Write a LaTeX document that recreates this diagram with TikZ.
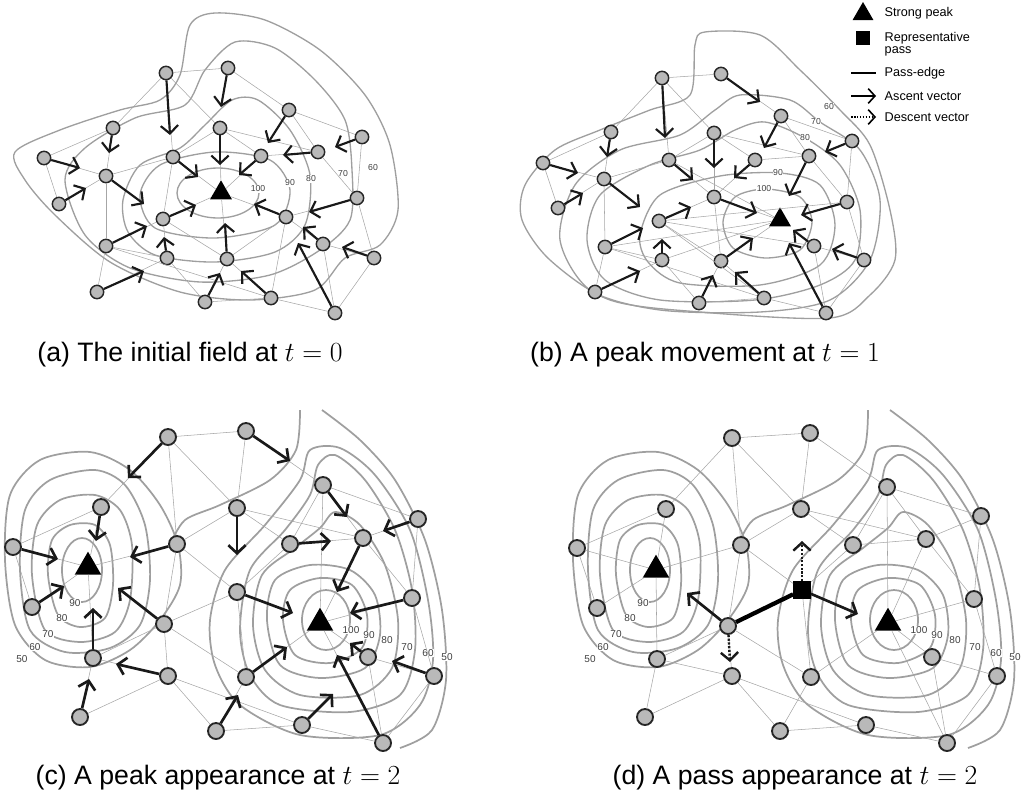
\documentclass[tikz,border=0pt]{standalone}
\usepackage{fontspec}
\setmainfont{Liberation Sans}
\usetikzlibrary{shapes.geometric,arrows.meta}
\begin{document}
\begin{tikzpicture}[x=0.75pt,y=-0.75pt,
 pt/.style={circle,fill=gray!55,draw=black!85,line width=1.1pt,minimum size=10pt,inner sep=0pt},
 bigpt/.style={pt,minimum size=12pt,line width=1.4pt},
 peak/.style={regular polygon,regular polygon sides=3,fill=black,minimum size=19pt,inner sep=0pt},
 bigpeak/.style={peak,minimum size=23pt},
 pass/.style={rectangle,fill=black,minimum size=13pt,inner sep=0pt},
 edge/.style={gray!70,line width=0.4pt},
 cont/.style={gray!75,line width=1pt},
 bigcont/.style={gray!75,line width=1.3pt},
 asc/.style={black!90,line width=1.6pt,-{Straight Barb[length=6pt,width=13pt]}},
 desc/.style={black!90,line width=1.8pt,dash pattern=on 1.6pt off 1.2pt,-{Straight Barb[length=6pt,width=13pt]}},
 passedge/.style={black,line width=3.2pt},
 lab/.style={font=\fontsize{6.5}{7}\selectfont,text=black!75,fill=white,inner sep=0.5pt},
 biglab/.style={lab,font=\fontsize{7.5}{8}\selectfont},
 leg/.style={font=\fontsize{9.5}{10}\selectfont,anchor=west,align=left},
 captxt/.style={font=\fontsize{20}{24}\selectfont}]
\def\ar#1#2{\coordinate (t#1) at (#2); \draw[asc] (#1) -- (t#1);}
\def\arb#1#2{\coordinate (t#1) at (#2); \draw[asc,line width=2pt] (#1) -- (t#1);}
\useasboundingbox (0,0) rectangle (1024,810);

% ---------- panel (a) contours
\draw[cont] (218,193) ellipse [x radius=41,y radius=25];
\draw[cont] plot[smooth cycle] coordinates {(140,195)(160,165)(215,152)(270,160)(290,190)(275,225)(215,238)(155,228)};
\draw[cont] plot[smooth cycle] coordinates {(123,200)(140,165)(180,148)(205,125)(232,100)(258,100)(290,130)(310,175)(305,225)(275,252)(215,262)(155,255)(128,232)};
\draw[cont] plot[smooth cycle] coordinates {(65,180)(85,148)(135,118)(185,105)(205,70)(235,42)(275,48)(315,80)(345,120)(352,170)(350,220)(320,250)(270,275)(200,282)(130,268)(85,235)};
\draw[cont] plot[smooth cycle] coordinates {(15,152)(60,130)(120,110)(160,100)(180,75)(190,25)(215,13)(265,20)(320,50)(365,95)(390,145)(398,210)(380,245)(345,258)(315,290)(250,300)(180,292)(110,262)(55,215)(25,180)};
\node[lab] at (258,189) {100};
\node[lab] at (290,183) {90};
\node[lab] at (311,179) {80};
\node[lab] at (343,174) {70};
\node[lab] at (373,168) {60};

% ---------- panel (b) contours
\draw[cont] plot[smooth cycle] coordinates {(723,222)(735,197)(765,189)(800,197)(812,222)(800,250)(765,258)(733,248)};
\draw[cont] plot[smooth cycle] coordinates {(640,235)(660,195)(720,176)(780,173)(820,185)(835,225)(820,265)(760,285)(680,283)(648,262)};
\draw[cont] plot[smooth cycle] coordinates {(587,240)(600,195)(650,165)(700,150)(735,130)(765,122)(805,138)(840,165)(860,210)(855,260)(820,285)(755,300)(660,300)(605,280)};
\draw[cont] plot[smooth cycle] coordinates {(560,240)(575,185)(620,150)(680,135)(715,110)(740,95)(790,100)(820,122)(860,150)(880,200)(870,260)(830,300)(760,312)(660,310)(590,290)};
\draw[cont] plot[smooth cycle] coordinates {(525,185)(555,150)(600,130)(650,110)(690,95)(695,45)(705,32)(760,35)(800,70)(840,110)(870,145)(890,210)(895,260)(870,295)(830,318)(700,312)(610,300)(550,260)(522,220)};
\node[lab] at (764,189) {100};
\node[lab] at (778,173) {90};
\node[lab] at (805,138) {80};
\node[lab] at (816,122) {70};
\node[lab] at (829,107) {60};

% ---------- panels (c),(d) contours
\foreach \dx in {0,568}{
\begin{scope}[xshift=\dx*0.75pt]
\draw[bigcont] (82,570) ellipse [x radius=20,y radius=32];
\draw[bigcont] plot[smooth cycle] coordinates {(48,575)(52,540)(70,525)(95,525)(110,545)(113,585)(105,618)(80,627)(58,615)};
\draw[bigcont] plot[smooth cycle] coordinates {(32,575)(37,525)(60,500)(95,495)(120,510)(132,545)(130,600)(115,632)(80,642)(45,630)};
\draw[bigcont] plot[smooth cycle] coordinates {(20,570)(25,510)(50,480)(95,470)(125,485)(145,525)(150,580)(140,625)(110,648)(65,652)(30,630)};
\draw[bigcont] plot[smooth cycle] coordinates {(5,560)(10,495)(40,460)(90,452)(130,470)(160,505)(178,545)(180,585)(160,620)(130,650)(90,667)(45,660)(15,625)};
\draw[bigcont] (326,620) ellipse [x radius=24,y radius=30];
\draw[bigcont] plot[smooth cycle] coordinates {(283,620)(290,590)(320,578)(352,585)(367,615)(362,648)(330,663)(295,655)};
\draw[bigcont] plot[smooth cycle] coordinates {(267,620)(275,580)(310,565)(350,570)(375,595)(380,635)(365,668)(320,678)(280,665)};
\draw[bigcont] plot[smooth cycle] coordinates {(253,625)(262,575)(295,548)(320,528)(335,512)(360,525)(385,565)(398,620)(392,668)(360,695)(300,695)(265,670)};
\draw[bigcont] plot[smooth cycle] coordinates {(240,630)(250,570)(285,530)(310,495)(318,465)(335,455)(365,480)(395,530)(412,590)(415,650)(400,695)(350,712)(280,705)(250,675)};
\draw[bigcont] plot[smooth cycle] coordinates {(210,620)(225,570)(265,525)(300,480)(310,450)(340,448)(375,475)(410,530)(428,600)(433,660)(420,705)(380,735)(300,735)(240,705)(215,665)};
\draw[bigcont] plot[smooth] coordinates {(322,410)(360,440)(395,480)(425,540)(442,610)(446,680)(432,730)(400,748)};
\draw[bigcont] plot[smooth] coordinates {(300,410)(296,450)(270,480)(220,505)(185,520)(170,545)};
\node[biglab] at (75,603) {90};
\node[biglab] at (62,618) {80};
\node[biglab] at (48,634) {70};
\node[biglab] at (35,647) {60};
\node[biglab] at (22,659) {50};
\node[biglab] at (351,630) {100};
\node[biglab] at (369,635) {90};
\node[biglab] at (387,640) {80};
\node[biglab] at (407,647) {70};
\node[biglab] at (428,653) {60};
\node[biglab] at (447,657) {50};
\end{scope}}

% ---------- nodes (a)
\foreach \n/\x/\y in {a1/166/73,a2/228/68,a3/113/128,a4/220/128,a5/289/110,a6/362/137,a7/44/158,a8/173/157,a9/261/156,a10/318/152,a11/106/176,a12/59/204,a14/163/219,a15/286/217,a16/357/198,a17/106/246,a18/323/244,a19/167/258,a20/227/259,a21/374/258,a22/97/292,a23/205/302,a24/271/298,a25/335/313}
 \node[pt] (\n) at (\x,\y) {};
\node[peak] (a13) at (221,193) {};
% ---------- nodes (b)
\foreach \n/\x/\y in {b1/662/78,b2/721/74,b3/611/132,b4/714/133,b5/781/116,b6/852/141,b7/543/163,b8/669/160,b9/755/160,b10/809/156,b11/604/179,b12/558/208,b13/714/197,b15/659/221,b16/847/202,b17/605/247,b18/814/246,b19/662/260,b20/721/261,b21/864/260,b22/595/292,b23/699/303,b24/764/298,b25/826/313}
 \node[pt] (\n) at (\x,\y) {};
\node[peak] (b14) at (780,220) {};
% ---------- nodes (c)
\foreach \n/\x/\y in {c1/168/437,c2/246/431,c3/323/485,c4/101/507,c5/237/508,c6/418/519,c7/13/547,c8/177/544,c9/290/544,c10/363/538,c12/237/592,c13/412/598,c14/32/607,c15/164/624,c17/93/658,c18/368/657,c19/168/676,c20/246/677,c21/434/676,c22/80/717,c23/216/731,c24/302/725,c25/383/743}
 \node[bigpt] (\n) at (\x,\y) {};
\node[bigpeak] (c11) at (88,567) {};
\node[bigpeak] (c16) at (320,623) {};
% ---------- nodes (d)
\foreach \n/\x/\y in {d1/732/438,d2/810/433,d3/887/487,d4/666/509,d5/801/509,d6/981/516,d7/577/548,d8/741/545,d9/853/545,d10/926/539,d13/974/599,d14/597/608,d15/728/626,d17/657/659,d18/932/657,d19/732/676,d20/811/677,d21/997/676,d22/645/717,d23/780/731,d24/866/725,d25/947/743}
 \node[bigpt] (\n) at (\x,\y) {};
\node[bigpeak] (d11) at (656,570) {};
\node[bigpeak] (d16) at (888,623) {};
\node[pass] (d12) at (802,590) {};

% ---------- edges (a),(b)
\foreach \p in {a,b}{
\foreach \u/\v in {1/2,1/3,1/4,1/8,2/5,3/7,3/11,4/8,4/9,4/10,4/13,5/10,5/6,6/16,7/11,7/12,8/11,8/13,8/14,9/13,9/10,10/16,11/12,11/17,13/14,13/15,13/20,14/17,14/19,14/20,15/16,15/18,15/20,15/24,16/21,17/19,17/22,17/24,19/22,19/23,20/23,20/24,23/24,24/25,18/21,18/25,21/25}
 \draw[edge] (\p\u) -- (\p\v);}
% ---------- edges (c),(d)
\foreach \p in {c,d}{
\foreach \u/\v in {1/2,1/4,1/8,1/5,2/5,2/3,3/6,3/9,3/10,4/7,4/11,5/8,5/9,5/10,6/10,6/13,7/11,7/14,8/11,8/12,8/15,9/10,9/12,10/13,10/16,11/14,11/17,13/16,13/21,15/17,15/20,15/19,12/20,16/18,16/20,16/25,17/19,17/22,18/21,18/25,19/22,19/23,19/24,20/23,23/24,24/25,21/25,3/16}
 \draw[edge] (\p\u) -- (\p\v);}
\draw[edge] (c12) -- (c15);

% ---------- ascent vectors (a)
\ar{a1}{170,135}\ar{a2}{221,107}\ar{a3}{109,153}\ar{a5}{268,143}\ar{a6}{335,147}
\ar{a10}{283,155}\ar{a7}{80,168}\ar{a8}{198,177}\ar{a4}{220,165}\ar{a9}{239,175}
\ar{a11}{144,204}\ar{a12}{86,188}\ar{a14}{196,205}\ar{a15}{254,204}\ar{a16}{309,212}
\ar{a17}{147,226}\ar{a19}{164,237}\ar{a20}{225,223}\ar{a18}{303,227}\ar{a21}{342,247}
\ar{a22}{144,271}\ar{a23}{220,273}\ar{a24}{241,271}\ar{a25}{298,243}
% ---------- ascent vectors (b)
\ar{b1}{665,138}\ar{b2}{760,102}\ar{b3}{607,157}\ar{b5}{764,148}\ar{b6}{825,152}
\ar{b7}{578,173}\ar{b8}{693,180}\ar{b4}{714,168}\ar{b9}{734,178}\ar{b10}{789,196}
\ar{b11}{640,207}\ar{b12}{583,193}\ar{b13}{757,213}\ar{b16}{801,215}\ar{b15}{691,207}
\ar{b17}{643,228}\ar{b19}{662,239}\ar{b20}{753,238}\ar{b18}{793,230}\ar{b21}{832,249}
\ar{b22}{640,271}\ar{b23}{713,275}\ar{b24}{735,272}\ar{b25}{789,243}
% ---------- ascent vectors (c)
\arb{c1}{128,478}\arb{c2}{290,461}\arb{c3}{347,517}\arb{c6}{383,531}\arb{c4}{96,541}
\arb{c5}{237,555}\arb{c9}{331,541}\arb{c10}{337,592}\arb{c7}{58,559}\arb{c8}{130,557}
\arb{c13}{350,613}\arb{c12}{293,613}\arb{c14}{64,586}\arb{c15}{118,588}\arb{c17}{93,608}
\arb{c19}{116,664}\arb{c20}{287,647}\arb{c18}{350,643}\arb{c21}{392,661}\arb{c22}{89,679}
\arb{c23}{238,695}\arb{c24}{333,694}\arb{c25}{337,655}
% ---------- panel (d) pass
\draw[passedge] (d15) -- (d12);
\arb{d15}{687,593}\arb{d12}{858,614}
\coordinate (u12) at (802,541); \draw[desc] (d12) -- (u12);
\coordinate (u15) at (730,662); \draw[desc] (d15) -- (u15);

% ---------- legend
\node[peak,minimum size=18pt] (lg1) at (863,14) {};
\node[leg] at (880,13) {Strong peak};
\node[pass,minimum size=11pt] (lg2) at (863,38) {};
\node[leg] at (880,44) {Representative\\[-1pt]pass};
\coordinate (lg3a) at (851,73); \coordinate (lg3b) at (876,73);
\draw[line width=2.2pt] (lg3a) -- (lg3b);
\node[leg] at (880,73) {Pass-edge};
\coordinate (lg4a) at (851,96); \coordinate (lg4b) at (876,96);
\draw[line width=1.2pt,-{Straight Barb[length=5pt,width=11pt]}] (lg4a) -- (lg4b);
\node[leg] at (880,96) {Ascent vector};
\coordinate (lg5a) at (851,117); \coordinate (lg5b) at (876,117);
\draw[line width=1.2pt,dash pattern=on 1.2pt off 1pt,-{Straight Barb[length=5pt,width=11pt]}] (lg5a) -- (lg5b);
\node[leg] at (880,117) {Descent vector};

% ---------- captions
\node[captxt] at (190,355) {(a) The initial field at $t=0$};
\node[captxt] at (705,355) {(b) A peak movement at $t=1$};
\node[captxt] at (218,778) {(c) A peak appearance at $t=2$};
\node[captxt] at (795,778) {(d) A pass appearance at $t=2$};
\end{tikzpicture}
\end{document}
